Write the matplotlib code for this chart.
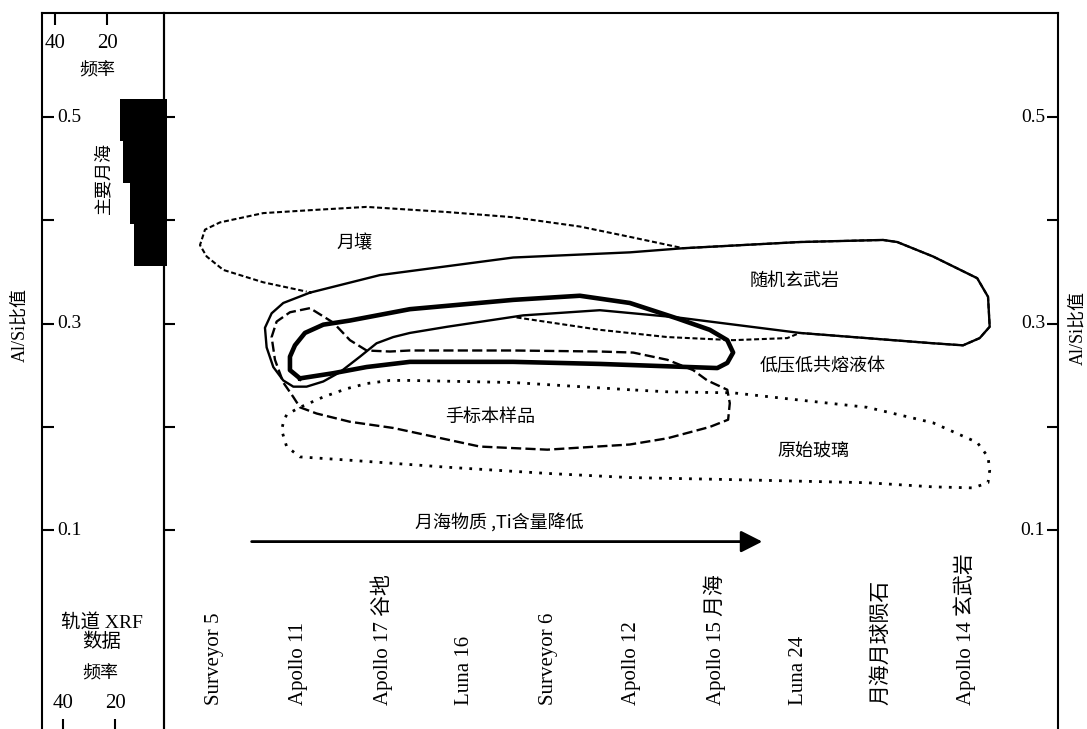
import matplotlib.pyplot as plt
from matplotlib.patches import FancyArrowPatch

plt.rcParams['font.family'] = ['Liberation Serif', 'Noto Sans CJK SC']
CJK = ['Noto Sans CJK SC', 'DejaVu Sans']

# sampling sites along the bottom, ordered by falling Ti in mare material
sites = ['Surveyor 5', 'Apollo 11', 'Apollo 17 谷地', 'Luna 16', 'Surveyor 6',
         'Apollo 12', 'Apollo 15 月海', 'Luna 24', '月海月球陨石', 'Apollo 14 玄武岩']

ratio_ticks = [0.1, 0.2, 0.3, 0.4, 0.5]
ratio_labels = [0.1, 0.3, 0.5]

# orbital XRF Al/Si histogram (main maria)
xrf_edges = [0.356, 0.396, 0.436, 0.477, 0.517]
xrf_counts = [12.7, 14.2, 16.9, 18.1]
freq_ticks = [40, 20]

# field outlines as (site index, Al/Si)
regolith = [(3.62, 0.306), (4.62, 0.294), (5.43, 0.287), (6.22, 0.284), (6.87, 0.286),
            (7.02, 0.291), (8.62, 0.281), (8.98, 0.279), (9.18, 0.286), (9.30, 0.297),
            (9.28, 0.326), (9.15, 0.344), (8.62, 0.365), (8.19, 0.379), (8.02, 0.381),
            (7.02, 0.379), (5.62, 0.373), (4.98, 0.384), (4.38, 0.394), (3.58, 0.403),
            (2.79, 0.408), (1.82, 0.413), (1.18, 0.410), (0.58, 0.407), (0.06, 0.398),
            (-0.12, 0.391), (-0.18, 0.376), (-0.10, 0.365), (0.10, 0.352), (0.58, 0.340),
            (1.10, 0.331)]

basalt = [(1.14, 0.330), (1.98, 0.347), (3.58, 0.364), (4.98, 0.369), (5.62, 0.373),
          (7.02, 0.379), (8.02, 0.381), (8.19, 0.379), (8.62, 0.365), (9.15, 0.344),
          (9.28, 0.326), (9.30, 0.297), (9.18, 0.286), (8.98, 0.279), (8.62, 0.281),
          (7.02, 0.291), (5.55, 0.306), (4.62, 0.313), (3.70, 0.308), (2.79, 0.297),
          (2.34, 0.291), (2.14, 0.287), (1.94, 0.281), (1.74, 0.268), (1.50, 0.253),
          (1.30, 0.244), (1.10, 0.239), (0.94, 0.239), (0.82, 0.245), (0.70, 0.258),
          (0.62, 0.277), (0.60, 0.296), (0.68, 0.310), (0.82, 0.320), (1.14, 0.330)]

eutectic = [(1.02, 0.247), (0.90, 0.255), (0.90, 0.268), (0.96, 0.279), (1.08, 0.291),
            (1.30, 0.299), (1.62, 0.303), (2.34, 0.314), (3.58, 0.323), (4.38, 0.327),
            (4.98, 0.320), (5.55, 0.305), (5.94, 0.294), (6.15, 0.284), (6.22, 0.272),
            (6.15, 0.262), (6.03, 0.257), (4.62, 0.261), (3.58, 0.263), (2.34, 0.263),
            (1.82, 0.258), (1.42, 0.252), (1.02, 0.247)]

hand_samples = [(1.14, 0.315), (0.90, 0.311), (0.74, 0.302), (0.68, 0.287), (0.72, 0.265),
                (0.82, 0.243), (0.94, 0.229), (1.02, 0.219), (1.22, 0.213), (1.62, 0.205),
                (2.14, 0.199), (3.18, 0.181), (3.99, 0.178), (4.98, 0.183), (5.43, 0.189),
                (5.94, 0.200), (6.16, 0.207), (6.18, 0.223), (6.15, 0.236), (5.91, 0.245),
                (5.74, 0.255), (5.43, 0.265), (5.02, 0.272), (4.62, 0.273), (3.58, 0.274),
                (2.34, 0.274), (2.10, 0.273), (1.82, 0.274), (1.62, 0.284), (1.42, 0.301),
                (1.14, 0.315)]

glass = [(4.98, 0.236), (3.58, 0.243), (2.34, 0.245), (2.10, 0.245), (1.82, 0.242),
         (1.58, 0.237), (1.30, 0.229), (1.02, 0.219), (0.86, 0.212), (0.82, 0.204),
         (0.80, 0.197), (0.86, 0.181), (1.02, 0.171), (1.58, 0.168), (2.79, 0.161),
         (3.99, 0.155), (4.98, 0.151), (6.22, 0.149), (7.83, 0.146), (8.62, 0.142),
         (9.10, 0.141), (9.28, 0.146), (9.30, 0.158), (9.28, 0.171), (9.15, 0.185),
         (8.62, 0.204), (7.83, 0.219), (7.02, 0.226), (6.22, 0.233), (5.43, 0.234),
         (4.98, 0.236)]

field_labels = [('月壤', 1.68, 0.378), ('随机玄武岩', 6.96, 0.341),
                ('低压低共熔液体', 7.29, 0.259), ('手标本样品', 3.30, 0.210),
                ('原始玻璃', 7.18, 0.177)]

trend_start, trend_end, trend_level = 0.44, 6.57, 0.089
trend_text = '月海物质 ,Ti含量降低'

W, H = 1087, 729
fig = plt.figure(figsize=(W / 100, H / 100), dpi=100)
axL = fig.add_axes([42 / W, 0, 122 / W, 716 / H])
ax = fig.add_axes([164 / W, 0, 894 / W, 716 / H])
ax.patch.set_visible(False)

ylim = (-0.0924, 0.6007)
for a in (axL, ax):
    a.set_ylim(*ylim)
    a.spines['bottom'].set_visible(False)
    for s in ('left', 'right', 'top'):
        a.spines[s].set_linewidth(1.5)
    a.set_yticks(ratio_ticks)

# --- left panel: orbital XRF frequency ---
axL.set_xlim(48.1, 1.15)
centers = [(a + b) / 2 for a, b in zip(xrf_edges[:-1], xrf_edges[1:])]
heights = [b - a for a, b in zip(xrf_edges[:-1], xrf_edges[1:])]
axL.barh(centers, xrf_counts, height=heights, left=0, color='k', clip_on=False)
axL.set_xticks(freq_ticks)
axL.tick_params(axis='x', direction='in', length=7.5, width=1.5, labelbottom=False)
axL.tick_params(axis='y', direction='in', length=8.6, width=1.5, labelleft=False)

axT = axL.twiny()
axT.set_xlim(45, -1.9)
axT.set_xticks(freq_ticks)
axT.tick_params(axis='x', direction='in', length=8.6, width=1.5, labeltop=False)
for s in axT.spines.values():
    s.set_visible(False)

for f in freq_ticks:
    axT.text(f, 0.958, str(f), transform=axT.get_xaxis_transform(),
             ha='center', va='center', fontsize=15)
    axL.text(f, 0.036, str(f), transform=axL.get_xaxis_transform(),
             ha='center', va='center', fontsize=15)
axL.text(0.451, 0.919, '频率', transform=axL.transAxes, ha='center', va='center',
         fontsize=13, family=CJK)
axL.text(24.6, 0.441, '主要月海', rotation=90, ha='center', va='center',
         fontsize=13, family=CJK)
axL.text(0.49, 0.149, '轨道 XRF', transform=axL.transAxes, ha='center', va='center', fontsize=14)
axL.text(0.49, 0.1215, '数据', transform=axL.transAxes, ha='center', va='center', fontsize=14)
axL.text(0.475, 0.078, '频率', transform=axL.transAxes, ha='center', va='center',
         fontsize=13, family=CJK)
for v in ratio_labels:
    axL.text(0.123, v, f'{v:.1f}', transform=axL.get_yaxis_transform(),
             ha='left', va='center', fontsize=14)

# --- main panel ---
ax.set_xlim(-0.612, 10.12)
ax.set_xticks([])
ax.tick_params(axis='y', which='both', direction='in', left=True, right=True,
               width=1.5, labelleft=False)
ax.yaxis.set_tick_params(length=8.2)
for v in ratio_labels:
    ax.text(0.9855, v, f'{v:.1f}', transform=ax.get_yaxis_transform(),
            ha='right', va='center', fontsize=14)

for i, name in enumerate(sites):
    ax.text(i, 0.0335, name, transform=ax.get_xaxis_transform(), rotation=90,
            ha='center', va='bottom', fontsize=15)


def outline(pts, **kw):
    xs, ys = zip(*pts)
    ax.plot(xs, ys, color='k', solid_joinstyle='round', **kw)


outline(basalt, lw=1.7)
outline(eutectic, lw=3.3)
outline(hand_samples, lw=1.7, dashes=(4.3, 1.8))
outline(regolith, lw=1.5, dashes=(2.4, 1.3))
outline(glass, lw=2.0, dashes=(1.0, 2.6), dash_capstyle='butt')

for text, x, y in field_labels:
    ax.text(x, y, text, ha='center', va='center', fontsize=13, family=CJK)

ax.add_patch(FancyArrowPatch((trend_start, trend_level), (trend_end, trend_level),
                             arrowstyle='-|>,head_length=0.65,head_width=0.33',
                             mutation_scale=20, lw=2, color='k',
                             shrinkA=0, shrinkB=0))
ax.text((trend_start + trend_end) / 2 - 0.09, 0.108, trend_text, ha='center',
        va='center', fontsize=13, family=CJK)

fig.text(20 / W, 1 - 325 / H, 'Al/Si比值', rotation=90, ha='center', va='center', fontsize=13)
fig.text(1078 / W, 1 - 328 / H, 'Al/Si比值', rotation=90, ha='center', va='center', fontsize=13)

fig.savefig('out.png', dpi=100)
